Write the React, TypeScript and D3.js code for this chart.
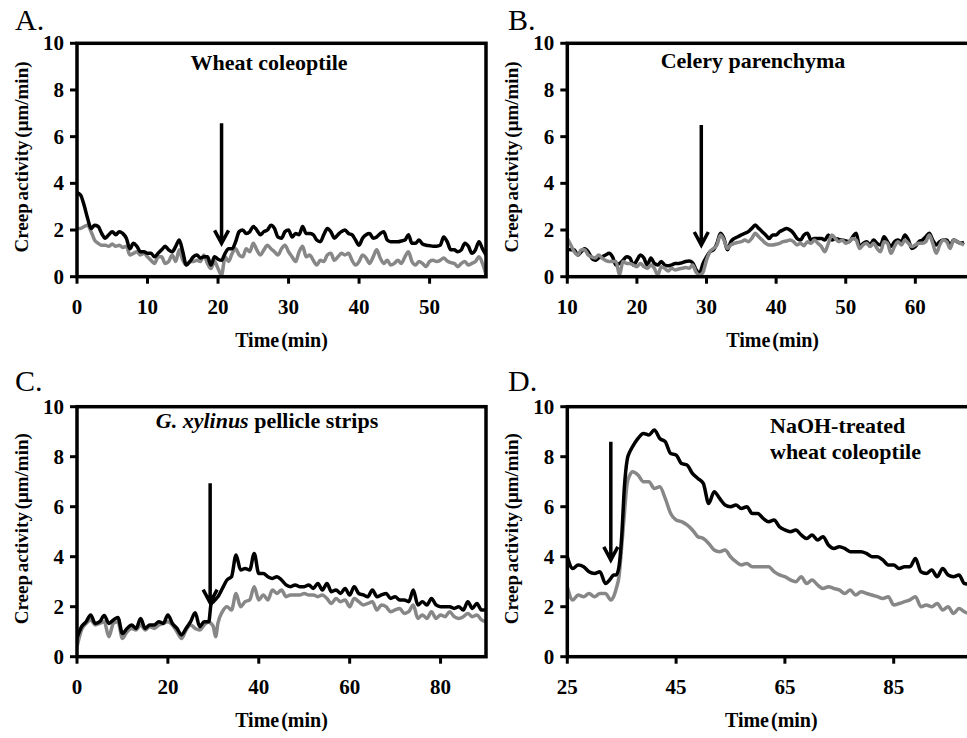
import React, { useRef, useEffect } from 'react';
import * as d3 from 'd3';

// Panel A - wheat coleoptile
const aTime = [
  0, 0.5, 1, 1.5, 2, 2.5, 3, 3.5, 4, 4.5, 5, 5.5, 6, 6.5, 7, 7.5, 8, 8.5, 9, 9.5,
  10, 10.5, 11, 11.5, 12, 12.5, 13, 13.5, 14, 14.5, 15, 15.5, 16, 16.5, 17, 17.5, 18, 18.5, 19, 19.5,
  20, 20.5, 21, 21.5, 22, 22.5, 23, 23.5, 24, 24.5, 25, 25.5, 26, 26.5, 27, 27.5, 28, 28.5, 29, 29.5,
  30, 30.5, 31, 31.5, 32, 32.5, 33, 33.5, 34, 34.5, 35, 35.5, 36, 36.5, 37, 37.5, 38, 38.5, 39, 39.5,
  40, 40.5, 41, 41.5, 42, 42.5, 43, 43.5, 44, 44.5, 45, 45.5, 46, 46.5, 47, 47.5, 48, 48.5, 49, 49.5,
  50, 50.5, 51, 51.5, 52, 52.5, 53, 53.5, 54, 54.5, 55, 55.5, 56, 56.5, 57, 57.5, 58,
];
const aBlack = [
  3.6, 3.5, 3.07, 2.5, 2.07, 2.2, 2.15, 1.85, 1.65, 1.8, 1.93, 1.8, 1.93, 1.85, 1.65, 1.2, 1.43, 1.3, 1.07, 1.07,
  1.0, 1.0, 0.85, 1.0, 1.15, 1.3, 1.15, 1.07, 1.3, 1.57, 1.07, 0.5, 0.65, 0.85, 0.93, 0.8, 0.85, 0.85, 0.5, 0.85,
  0.75, 0.7, 1.0, 1.2, 1.2, 1.5, 1.93, 2.0, 1.85, 1.93, 2.15, 2.0, 1.8, 1.93, 2.0, 2.2, 2.07, 1.7, 1.65, 1.93,
  2.0, 1.7, 1.85, 1.8, 2.15, 1.85, 1.85, 1.8, 1.57, 1.5, 1.8, 2.07, 1.93, 1.65, 1.8, 1.93, 2.0, 1.85, 1.8, 1.57,
  1.35, 1.65, 1.8, 1.85, 1.65, 1.7, 1.85, 1.93, 1.57, 1.5, 1.5, 1.5, 1.53, 1.57, 1.8, 1.43, 1.43, 1.57, 1.4, 1.35,
  1.33, 1.31, 1.31, 1.35, 1.7, 1.5, 1.15, 1.15, 1.07, 1.15, 1.43, 1.3, 1.0, 1.15, 1.5, 1.2, 0.93,
];
const aGray = [
  2.07, 2.07, 2.15, 2.2, 1.93, 1.57, 1.43, 1.35, 1.35, 1.3, 1.4, 1.3, 1.35, 1.25, 1.3, 0.93, 1.0, 1.07, 0.93, 1.0,
  0.85, 0.7, 0.57, 0.85, 0.85, 0.57, 0.65, 0.93, 0.65, 1.15, 0.7, 0.5, 0.65, 0.65, 0.7, 0.65, 0.93, 0.57, 0.35, 0.65,
  0.35, 0.07, 0.85, 0.65, 1.0, 1.2, 0.93, 0.85, 1.2, 1.07, 1.43, 1.15, 0.93, 1.15, 1.35, 1.2, 1.07, 0.93, 1.2, 1.35,
  1.07, 0.85, 0.65, 1.07, 1.3, 0.85, 0.93, 0.7, 0.5, 0.7, 0.65, 0.93, 1.0, 0.7, 0.85, 1.0, 0.93, 1.0, 0.7, 0.5,
  0.65, 0.93, 0.8, 0.57, 0.85, 1.15, 0.8, 0.57, 0.7, 0.5, 0.57, 0.7, 0.57, 0.85, 1.07, 0.65, 0.5, 0.65, 0.57, 0.43,
  0.65, 0.7, 0.65, 0.7, 0.8, 0.67, 0.6, 0.57, 0.43, 0.57, 0.65, 0.5, 0.57, 0.65, 0.85, 0.57, 0.07,
];

// Panel B - celery parenchyma
const bTime = [
  10, 10.5, 11, 11.5, 12, 12.5, 13, 13.5, 14, 14.5, 15, 15.5, 16, 16.5, 17, 17.5, 18, 18.5, 19, 19.5,
  20, 20.5, 21, 21.5, 22, 22.5, 23, 23.5, 24, 24.5, 25, 25.5, 26, 26.5, 27, 27.5, 28, 28.5, 29, 29.5,
  30, 30.5, 31, 31.5, 32, 32.5, 33, 33.5, 34, 34.5, 35, 35.5, 36, 36.5, 37, 37.5, 38, 38.5, 39, 39.5,
  40, 40.5, 41, 41.5, 42, 42.5, 43, 43.5, 44, 44.5, 45, 45.5, 46, 46.5, 47, 47.5, 48, 48.5, 49, 49.5,
  50, 50.5, 51, 51.5, 52, 52.5, 53, 53.5, 54, 54.5, 55, 55.5, 56, 56.5, 57, 57.5, 58, 58.5, 59, 59.5,
  60, 60.5, 61, 61.5, 62, 62.5, 63, 63.5, 64, 64.5, 65, 65.5, 66, 66.5, 67,
];
const bBlack = [
  1.2, 1.15, 1.15, 0.93, 1.07, 1.2, 1.07, 0.8, 0.7, 0.8, 0.85, 0.93, 1.0, 0.85, 0.5, 0.57, 0.7, 0.85, 0.8, 0.5,
  0.7, 0.93, 0.8, 0.5, 0.8, 0.57, 0.5, 0.65, 0.5, 0.47, 0.5, 0.57, 0.57, 0.6, 0.65, 0.67, 0.6, 0.3, 0.15, 0.57,
  0.85, 1.07, 1.15, 1.43, 1.86, 1.64, 1.15, 1.5, 1.64, 1.71, 1.79, 1.86, 1.93, 2.07, 2.21, 2.07, 1.93, 1.79, 1.64, 1.79,
  1.79, 1.93, 2.0, 2.07, 2.0, 1.86, 1.64, 1.57, 1.79, 1.86, 1.57, 1.64, 1.64, 1.64, 1.57, 1.79, 1.57, 1.64, 1.6, 1.57,
  1.53, 1.5, 1.71, 1.86, 1.29, 1.43, 1.5, 1.36, 1.57, 1.43, 1.36, 1.71, 1.5, 1.29, 1.5, 1.57, 1.5, 1.79, 1.57, 1.21,
  1.29, 1.5, 1.57, 1.71, 1.86, 1.57, 1.36, 1.5, 1.57, 1.57, 1.36, 1.57, 1.5, 1.43, 1.47,
];
const bGray = [
  1.64, 1.36, 1.07, 0.93, 1.15, 1.15, 0.93, 0.85, 0.8, 0.93, 0.8, 0.7, 0.65, 0.65, 0.65, 0.07, 0.65, 0.57, 0.57, 0.5,
  0.43, 0.57, 0.43, 0.36, 0.5, 0.36, 0.07, 0.43, 0.36, 0.24, 0.36, 0.29, 0.33, 0.36, 0.39, 0.36, 0.5, 0.19, 0.07, 0.19,
  0.71, 1.07, 1.21, 1.36, 1.79, 1.57, 1.21, 1.36, 1.43, 1.47, 1.5, 1.57, 1.5, 1.64, 1.86, 1.71, 1.57, 1.43, 1.36, 1.36,
  1.39, 1.43, 1.5, 1.53, 1.57, 1.5, 1.36, 1.43, 1.33, 1.5, 1.43, 1.57, 1.43, 1.29, 1.07, 1.43, 1.79, 1.64, 1.5, 1.57,
  1.43, 1.5, 1.64, 1.57, 1.21, 1.36, 1.43, 1.29, 1.43, 1.21, 1.07, 1.5, 1.43, 1.0, 1.29, 1.5, 1.36, 1.57, 1.43, 1.29,
  1.36, 1.43, 1.43, 1.5, 1.79, 1.43, 1.0, 1.36, 1.57, 1.5, 1.21, 1.57, 1.5, 1.43, 1.36,
];

// Panel C - G. xylinus pellicle strips
const cTime = [
  0, 1, 2, 3, 4, 5, 6, 7, 8, 9, 10, 11, 12, 13, 14, 15, 16, 17, 18, 19,
  20, 21, 22, 23, 24, 25, 26, 27, 28, 29, 29.5, 30, 30.5, 31, 32, 33, 34, 35, 36, 37,
  38, 39, 40, 41, 42, 43, 44, 45, 46, 47, 48, 49, 50, 51, 52, 53, 54, 55, 56, 57,
  58, 59, 60, 61, 62, 63, 64, 65, 66, 67, 68, 69, 70, 71, 72, 73, 74, 75, 76, 77,
  78, 79, 80, 81, 82, 83, 84, 85, 86, 87, 88, 89, 90,
];
const cBlack = [
  0.75, 1.2, 1.4, 1.67, 1.33, 1.4, 1.65, 1.33, 1.47, 1.57, 0.93, 1.13, 1.27, 1.13, 1.53, 1.13, 1.27, 1.27, 1.4, 1.33,
  1.67, 1.33, 1.13, 0.87, 1.13, 1.4, 1.76, 1.2, 1.4, 1.4, 2.1, 2.2, 2.3, 2.4, 2.73, 3.07, 3.2, 4.07, 3.47, 3.53,
  3.47, 4.13, 3.33, 3.33, 3.2, 3.13, 3.2, 3.07, 2.87, 2.8, 2.87, 2.8, 2.8, 2.87, 2.73, 2.93, 2.67, 2.93, 2.6, 2.67,
  2.53, 2.73, 2.47, 2.8, 2.53, 2.47, 2.4, 2.67, 2.4, 2.47, 2.53, 2.33, 2.4, 2.27, 2.27, 2.2, 2.67, 2.07, 2.2, 2.07,
  2.33, 2.07, 2.0, 2.0, 2.0, 1.93, 2.0, 1.87, 2.2, 1.93, 2.13, 1.87, 1.87,
];
const cGray = [
  0.4, 1.07, 1.33, 1.47, 1.27, 1.33, 1.4, 0.8, 1.33, 1.4, 0.73, 1.0, 1.13, 1.07, 1.27, 1.07, 1.2, 1.13, 1.27, 1.33,
  1.4, 1.27, 1.0, 0.73, 1.07, 1.27, 1.13, 1.07, 1.27, 1.4, 1.33, 1.2, 0.8, 1.33, 1.8, 2.0, 1.87, 2.53, 2.0, 2.2,
  2.27, 2.8, 2.27, 2.47, 2.27, 2.67, 2.53, 2.67, 2.4, 2.47, 2.47, 2.47, 2.53, 2.47, 2.47, 2.4, 2.47, 2.33, 2.13, 2.33,
  2.2, 2.27, 2.0, 2.33, 2.2, 2.07, 2.13, 2.2, 1.87, 2.07, 2.0, 1.8, 1.87, 1.93, 1.73, 1.8, 2.07, 1.53, 1.67, 1.53,
  1.8, 1.53, 1.67, 1.6, 1.8, 1.6, 1.53, 1.6, 1.73, 1.6, 1.67, 1.47, 1.4,
];

// Panel D - NaOH-treated wheat coleoptile
const dTime = [
  25, 26, 27, 28, 29, 30, 31, 32, 33, 33.5, 34, 34.5, 35, 35.5, 36, 36.5, 37, 38, 39, 40,
  41, 42, 43, 44, 45, 46, 47, 48, 49, 50, 51, 52, 53, 54, 55, 56, 57, 58, 59, 60,
  61, 62, 63, 64, 65, 66, 67, 68, 69, 70, 71, 72, 73, 74, 75, 76, 77, 78, 79, 80,
  81, 82, 83, 84, 85, 86, 87, 88, 89, 90, 91, 92, 93, 94, 95, 96, 97, 98, 99,
];
const dBlack = [
  4.0, 3.53, 3.67, 3.6, 3.4, 3.33, 3.4, 2.93, 3.13, 3.27, 3.27, 3.6, 4.8, 6.8, 7.87, 8.2, 8.4, 8.73, 8.93, 8.87,
  9.07, 8.73, 8.6, 8.13, 8.07, 7.73, 7.67, 7.33, 7.13, 6.93, 6.13, 6.6, 6.33, 6.07, 6.0, 6.07, 5.93, 6.0, 5.73, 5.73,
  5.53, 5.4, 5.47, 5.2, 5.07, 5.0, 5.07, 4.87, 4.73, 4.87, 4.67, 4.8, 4.47, 4.33, 4.4, 4.33, 4.2, 4.2, 4.2, 4.13,
  4.0, 4.0, 3.87, 3.67, 3.67, 3.53, 3.6, 3.6, 3.93, 3.4, 3.33, 3.47, 3.2, 3.53, 3.27, 3.2, 3.27, 2.93, 2.9,
];
const dGray = [
  2.8, 2.27, 2.47, 2.4, 2.53, 2.4, 2.53, 2.53, 2.27, 2.4, 2.73, 3.2, 4.4, 5.73, 6.93, 7.27, 7.4, 7.27, 7.0, 7.0,
  6.73, 6.8, 6.33, 5.73, 5.47, 5.4, 5.27, 5.07, 4.8, 4.73, 4.53, 4.27, 4.2, 4.27, 4.0, 3.8, 3.67, 3.73, 3.6, 3.6,
  3.6, 3.6, 3.4, 3.27, 3.2, 3.07, 3.0, 3.2, 2.93, 3.07, 2.87, 2.73, 2.8, 2.73, 2.67, 2.53, 2.67, 2.47, 2.6, 2.53,
  2.47, 2.4, 2.33, 2.4, 2.07, 2.13, 2.2, 2.27, 2.4, 2.0, 2.07, 2.0, 2.13, 1.87, 2.0, 1.73, 1.93, 1.8, 1.7,
];

const yTicks = [0, 2, 4, 6, 8, 10];

const panels = [
  {
    key: 'A', letter: 'A.', letterX: 15, letterY: 30,
    left: 77, right: 486, top: 43.3, bottom: 276.7,
    xDomain: [0, 58], xTicks: [0, 10, 20, 30, 40, 50],
    time: aTime, black: aBlack, gray: aGray, grayOnTop: false,
    arrow: { x: 20.5, from: 6.57, to: 1.43 },
    title: [{ text: 'Wheat coleoptile', x: 269, y: 70, anchor: 'middle' }],
  },
  {
    key: 'B', letter: 'B.', letterX: 508, letterY: 30,
    left: 567.3, right: 978, top: 43.3, bottom: 276.7,
    xDomain: [10, 69], xTicks: [10, 20, 30, 40, 50, 60],
    time: bTime, black: bBlack, gray: bGray, grayOnTop: true,
    arrow: { x: 29.25, from: 6.5, to: 1.36 },
    title: [{ text: 'Celery parenchyma', x: 753, y: 68, anchor: 'middle' }],
  },
  {
    key: 'C', letter: 'C.', letterX: 15, letterY: 391,
    left: 77, right: 486, top: 406.7, bottom: 656.7,
    xDomain: [0, 90], xTicks: [0, 20, 40, 60, 80],
    time: cTime, black: cBlack, gray: cGray, grayOnTop: false,
    arrow: { x: 29.3, from: 6.94, to: 2.16 },
    title: [{ text: 'pellicle strips', italic: 'G. xylinus', x: 267, y: 428, anchor: 'middle' }],
  },
  {
    key: 'D', letter: 'D.', letterX: 508, letterY: 391,
    left: 567.3, right: 975.3, top: 406.7, bottom: 656.7,
    xDomain: [25, 100], xTicks: [25, 45, 65, 85],
    time: dTime, black: dBlack, gray: dGray, grayOnTop: false,
    arrow: { x: 33, from: 8.6, to: 3.87 },
    title: [
      { text: 'NaOH-treated', x: 770, y: 433, anchor: 'start' },
      { text: 'wheat coleoptile', x: 770, y: 459, anchor: 'start' },
    ],
  },
];

const FONT = '"Liberation Serif", "Times New Roman", Times, serif';
const GRAY = '#878787';

const App = () => {
  const svgRef = useRef<SVGSVGElement>(null);

  useEffect(() => {
    const svg = d3.select(svgRef.current);
    svg.selectAll('*').remove();

    const defs = svg.append('defs');

    panels.forEach((p: any) => {
      const x = d3.scaleLinear().domain(p.xDomain).range([p.left, p.right]);
      const y = d3.scaleLinear().domain([0, 10]).range([p.bottom, p.top]);
      const g = svg.append('g').attr('class', 'panel-' + p.key);

      const clipId = 'clip-' + p.key;
      defs.append('clipPath').attr('id', clipId)
        .append('rect')
        .attr('x', p.left).attr('y', p.top - 2)
        .attr('width', p.right - p.left).attr('height', p.bottom - p.top + 3);

      const line = d3.line<number>()
        .x((d, i) => x(p.time[i]))
        .y(d => y(d))
        .curve(d3.curveMonotoneX);

      const series = p.grayOnTop
        ? [{ v: p.black, c: '#000' }, { v: p.gray, c: GRAY }]
        : [{ v: p.gray, c: GRAY }, { v: p.black, c: '#000' }];

      const lines = g.append('g').attr('clip-path', `url(#${clipId})`);
      series.forEach(s => {
        lines.append('path')
          .attr('d', line(s.v))
          .attr('fill', 'none')
          .attr('stroke', s.c)
          .attr('stroke-width', 3.5)
          .attr('stroke-linejoin', 'round');
      });

      // frame of the plot area
      g.append('rect')
        .attr('x', p.left).attr('y', p.top)
        .attr('width', p.right - p.left).attr('height', p.bottom - p.top)
        .attr('fill', 'none').attr('stroke', '#000').attr('stroke-width', 3.5);

      // x ticks and labels
      p.xTicks.forEach((t: number) => {
        g.append('line')
          .attr('x1', x(t)).attr('x2', x(t))
          .attr('y1', p.bottom).attr('y2', p.bottom + 7)
          .attr('stroke', '#000').attr('stroke-width', 3);
        g.append('text')
          .attr('x', x(t)).attr('y', p.bottom + 37)
          .attr('text-anchor', 'middle')
          .attr('font-family', FONT).attr('font-weight', 'bold').attr('font-size', 21)
          .text(t);
      });

      // y ticks and labels
      yTicks.forEach(t => {
        g.append('line')
          .attr('x1', p.left - 7).attr('x2', p.left)
          .attr('y1', y(t)).attr('y2', y(t))
          .attr('stroke', '#000').attr('stroke-width', 3);
        g.append('text')
          .attr('x', p.left - 13).attr('y', y(t) + 7)
          .attr('text-anchor', 'end')
          .attr('font-family', FONT).attr('font-weight', 'bold').attr('font-size', 21)
          .text(t);
      });

      // axis titles
      g.append('text')
        .attr('x', (p.left + p.right) / 2).attr('y', p.bottom + 70)
        .attr('text-anchor', 'middle')
        .attr('font-family', FONT).attr('font-weight', 'bold').attr('font-size', 20)
        .attr('word-spacing', -3)
        .text('Time (min)');

      const cy = (p.top + p.bottom) / 2 - 3;
      g.append('text')
        .attr('transform', `translate(${p.left - 49},${cy}) rotate(-90)`)
        .attr('text-anchor', 'middle')
        .attr('font-family', FONT).attr('font-weight', 'bold').attr('font-size', 19)
        .attr('word-spacing', -2)
        .text('Creep activity (μm/min)');

      // panel letter
      g.append('text')
        .attr('x', p.letterX).attr('y', p.letterY)
        .attr('font-family', FONT).attr('font-size', 30)
        .text(p.letter);

      // panel title
      p.title.forEach((tl: any) => {
        const t = g.append('text')
          .attr('x', tl.x).attr('y', tl.y)
          .attr('text-anchor', tl.anchor)
          .attr('font-family', FONT).attr('font-weight', 'bold').attr('font-size', 22);
        if (tl.italic) {
          t.append('tspan').attr('font-style', 'italic').text(tl.italic);
          t.append('tspan').text(' ' + tl.text);
        } else {
          t.text(tl.text);
        }
      });

      // arrow marking the addition
      const ax = x(p.arrow.x);
      const ay0 = y(p.arrow.from);
      const ay1 = y(p.arrow.to);
      g.append('path')
        .attr('d', `M${ax},${ay0}L${ax},${ay1 - 2}M${ax - 7},${ay1 - 13}L${ax},${ay1}L${ax + 7},${ay1 - 13}`)
        .attr('fill', 'none').attr('stroke', '#000').attr('stroke-width', 3.5);
    });
  }, []);

  return (
    <svg
      ref={svgRef}
      width={967}
      height={738}
      style={{ position: 'absolute', left: 0, top: 0, background: '#fff' }}
    />
  );
};

export default App;
